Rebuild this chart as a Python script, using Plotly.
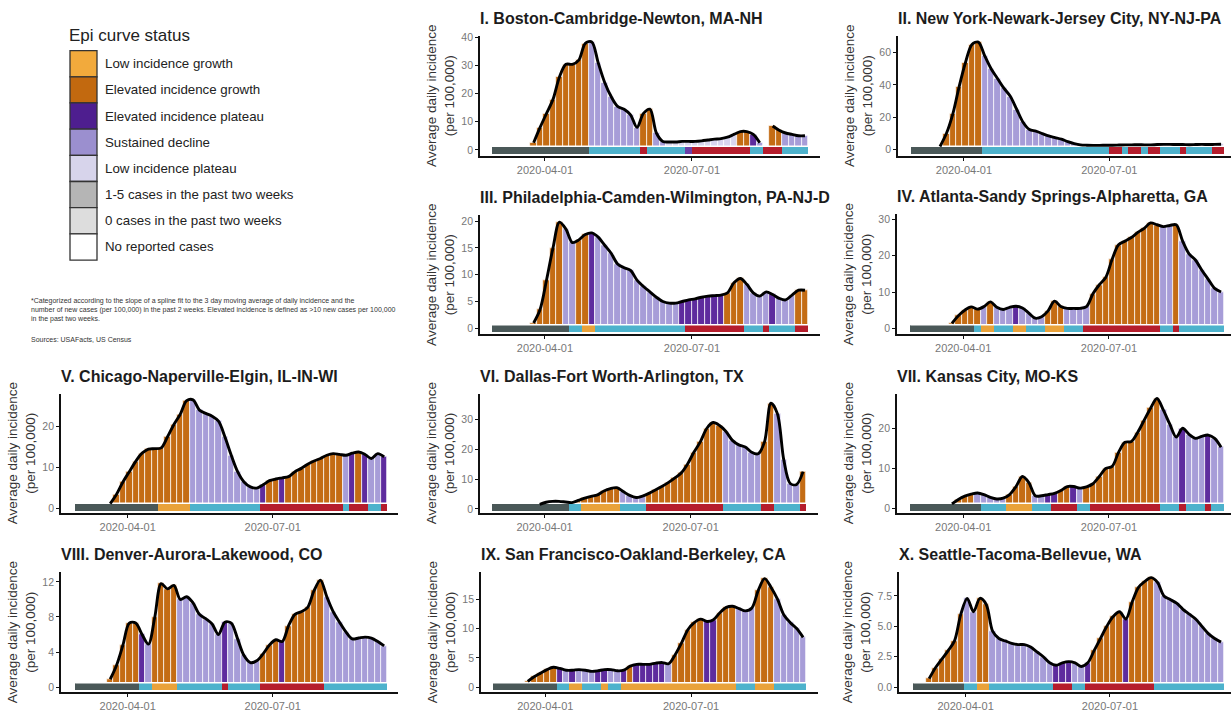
import plotly.graph_objects as go
import pandas as pd

FONT = "Liberation Sans, Arial, sans-serif"
W, H = 1231, 713

# ---------------- data ----------------
START = "2020-03-01"
N_BARS = 49
STEP_DAYS = 4

tick_dates = ["2020-04-01", "2020-07-01"]
tick_labels = ["2020-04-01", "2020-07-01"]

titles = [
    "I. Boston-Cambridge-Newton, MA-NH",
    "II. New York-Newark-Jersey City, NY-NJ-PA",
    "III. Philadelphia-Camden-Wilmington, PA-NJ-D",
    "IV. Atlanta-Sandy Springs-Alpharetta, GA",
    "V. Chicago-Naperville-Elgin, IL-IN-WI",
    "VI. Dallas-Fort Worth-Arlington, TX",
    "VII. Kansas City, MO-KS",
    "VIII. Denver-Aurora-Lakewood, CO",
    "IX. San Francisco-Oakland-Berkeley, CA",
    "X. Seattle-Tacoma-Bellevue, WA",
]

boston_vals = [None, None, None, None, None, None,
               2.5, 8, 13, 18, 26, 30.5, 30.5, 32, 38, 38.5, 31, 24, 19, 15.5, 14.5,
               12.5, 8, 13, 14.5, 6, 3, 2.8, 2.8, 3, 3, 3, 3.2, 3.5, 3.8, 4,
               4.5, 5.5, 6.5, 6.5, 5.5, 2.5, None, 8.5, 7, 6, 5.5, 5, 5]
ny_vals = [None, None, None, None,
           2, 10, 22, 39, 54, 65, 66.5, 58, 50, 44, 38, 33, 25, 17, 12.5, 11.5, 10,
           8.5, 7.5, 6.5, 5, 3.8, 3, 2.8, 2.7, 2.7, 2.8, 2.8, 2.9, 3.0, 3.0, 3.1, 3.0,
           3.0, 3.2, 3.3, 3.3, 3.2, 3.2, 3.1, 3.2, 3.3, 3.2, 3.3, 3.4]
philly_vals = [None, None, None, None, None, None,
               1, 3.5, 9, 15, 19.8, 18.5, 16, 16.5, 17.5, 17.8, 17, 15.5, 14, 12, 11.3,
               10.8, 9, 7.8, 6.8, 5.8, 5, 4.7, 4.7, 5, 5.3, 5.5, 5.8, 6, 6.1, 6.2,
               6.6, 8.5, 9.3, 8.2, 6.6, 6, 6.8, 6.3, 5.6, 5.3, 6.2, 7.1, 7.1]
atlanta_vals = [None, None, None, None, None, None,
                1.4, 3.5, 5, 5.9, 5.3, 6, 7.3, 5.8, 5.2, 5.8, 6.1, 5.6, 4.2, 2.8, 3.2,
                4.8, 7.5, 6, 5.5, 5.5, 5.5, 6, 9.5, 12, 14, 19, 23, 24, 25, 26.4,
                27.5, 29, 28.5, 28, 28.3, 28.5, 24, 20.5, 18.8, 16, 13.5, 11, 10]
chicago_vals = [None, None, None, None, None,
                1.2, 3.5, 6.5, 9, 11.5, 13.5, 14.5, 14.6, 14.8, 17.5, 20.5, 23, 26.3, 26.5,
                24, 23.2, 22.5, 21.3, 17.5, 13, 9, 6.5, 5.3, 5, 5.8, 6.8, 7.2, 7.5, 7.8,
                9, 9.8, 10.8, 11.6, 12.2, 13, 13.4, 13.2, 13, 13.5, 13.8, 13.2, 12.2, 13.4, 12.6]
dallas_vals = [None, None, None, None, None, None, None,
               1.5, 2.2, 2.5, 2.5, 2.3, 2.1, 2.8, 3.6, 4.2, 4.7, 6, 6.8, 7.1, 5.8, 4.5,
               3.8, 4.3, 5.2, 6.3, 7.5, 8.8, 10.3, 12, 15, 19, 22.5, 27, 29, 28, 26,
               23, 21.5, 20.8, 19, 18.5, 22.5, 35.5, 32, 16.4, 8.5, 8.2, 12.5]
kc_vals = [None, None, None, None, None, None,
           1.2, 2.3, 3.1, 3.6, 3.9, 3.5, 2.8, 2.4, 2.6, 3.5, 5.5, 8, 6.5, 3.2, 3.2,
           3.5, 3.8, 4.5, 5.5, 5.5, 5.1, 5.4, 6.2, 8, 10, 10.5, 14, 16.5, 16.7, 19,
           22, 25, 27.4, 24.5, 21, 17.8, 20, 18.5, 17.5, 18, 18.3, 17.5, 15.3]
denver_vals = [None, None, None, None, None,
               0.9, 2.5, 4.8, 7.3, 7.3, 6, 4.9, 8, 11.8, 11.2, 11.6, 10, 10.3, 9.6, 8.3,
               7.8, 7.2, 6, 7.4, 7.3, 5.5, 3.6, 2.8, 3, 3.8, 4.8, 5.4, 5.2, 7, 8.3,
               8.6, 9.1, 11, 12.2, 10.3, 8.6, 7.4, 6.3, 5.5, 5.6, 5.7, 5.6, 5.2, 4.7]
sf_vals = [None, None, None, None, None,
           1, 1.8, 2.4, 3, 3.4, 3.2, 2.9, 2.9, 3, 2.9, 2.7, 2.8, 3, 3, 2.8, 2.9,
           3.6, 3.9, 3.9, 3.9, 4.1, 4.2, 4, 5.5, 7.5, 9.8, 11, 11.6, 11.2, 11.5, 12.7,
           13.6, 13.8, 13.4, 13, 13.5, 16.5, 18.5, 17, 15, 12.3, 11, 10, 8.5]
seattle_vals = [None, None,
                0.7, 1.6, 2.3, 3, 3.8, 6, 7.3, 6.2, 7.3, 6.8, 4.6, 4, 3.8, 3.6, 3.5,
                3.5, 3.3, 2.9, 2.5, 2, 1.8, 2, 2.1, 2, 1.7, 2, 3, 4, 5, 5.8, 6.2,
                5.6, 7, 8.2, 8.7, 9, 8.6, 7.5, 7.2, 6.9, 6.4, 6, 5.6, 5, 4.4, 4, 3.7]

# status per bar: E elevated growth, L low growth, P elevated plateau,
# D sustained decline, W low incidence plateau, N none
boston_status = "N"*6 + "E"*9 + "D"*8 + "E"*2 + "D"*2 + "W"*11 + "E"*2 + "P" + "D" + "N" + "E"*2 + "D"*4
ny_status = "N"*4 + "E"*7 + "D"*16 + "W"*22
philly_status = "N"*6 + "E"*5 + "D"*2 + "E"*2 + "P" + "D"*13 + "P"*7 + "E"*3 + "D"*4 + "P" + "D"*3 + "E"*2
atlanta_status = "N"*6 + "E"*5 + "D" + "E" + "D"*3 + "P" + "D"*4 + "E"*3 + "D"*4 + "E"*11 + "D"*2 + "E" + "D"*7
chicago_status = "N"*5 + "E"*13 + "D"*11 + "P" + "E"*2 + "P" + "E"*9 + "D" + "P" + "E" + "P" + "D"*2 + "P"
dallas_status = "N"*7 + "W"*5 + "E"*8 + "D"*4 + "E"*12 + "D"*6 + "E"*2 + "D"*4 + "E"
kc_status = "N"*6 + "E"*4 + "D"*5 + "E"*4 + "D"*2 + "P"*2 + "E"*2 + "P" + "D" + "E"*12 + "D"*3 + "P" + "D"*3 + "P" + "D"*2
denver_status = "N"*5 + "E"*5 + "P" + "D" + "E"*4 + "D"*7 + "P" + "D"*5 + "E"*3 + "P" + "E"*6 + "D"*10
sf_status = "N"*5 + "E"*5 + "P" + "D" + "P" + "D"*3 + "P"*2 + "D"*2 + "P" + "E" + "P"*5 + "D" + "E"*5 + "P"*2 + "E"*3 + "D"*3 + "E"*3 + "D"*5
seattle_status = "N"*2 + "E"*6 + "D"*2 + "E"*2 + "D"*10 + "P"*3 + "D"*2 + "P" + "E"*5 + "P" + "E"*4 + "D"*11

# bottom strip categories: G grey, C cyan, O orange, R red, V violet
boston_strip = "G"*15 + "C"*8 + "R" + "C"*6 + "V" + "R"*9 + "C"*2 + "R"*3 + "C"*4
ny_strip = "G"*11 + "C"*20 + "R"*2 + "C" + "R"*2 + "C" + "R"*2 + "C"*3 + "R" + "C"*4 + "R"*2
philly_strip = "G"*12 + "C"*2 + "O"*2 + "C"*14 + "R"*9 + "C"*3 + "R" + "C"*4 + "R"*2
atlanta_strip = "G"*10 + "C" + "O"*2 + "C"*3 + "O"*2 + "C"*3 + "O"*3 + "C"*3 + "R"*12 + "C"*2 + "R" + "C"*7
chicago_strip = "G"*13 + "O"*5 + "C"*11 + "R"*13 + "C" + "R"*3 + "C"*2 + "R"
dallas_strip = "G"*12 + "C"*2 + "O"*6 + "C"*4 + "R"*12 + "C"*6 + "R"*2 + "C"*4 + "R"
kc_strip = "G"*11 + "C"*4 + "O"*4 + "C"*3 + "R"*4 + "C"*2 + "R"*11 + "C"*3 + "R" + "C"*3 + "R" + "C"*2
denver_strip = "G"*10 + "C"*2 + "O"*4 + "C"*7 + "R" + "C"*5 + "R"*10 + "C"*10
sf_strip = "G"*10 + "C"*2 + "O"*2 + "C"*3 + "O" + "C"*2 + "O"*18 + "C"*3 + "O"*3 + "C"*5
seattle_strip = "G"*8 + "C"*2 + "O"*2 + "C"*10 + "R"*3 + "C"*2 + "R"*11 + "C"*11

values = [boston_vals, ny_vals, philly_vals, atlanta_vals, chicago_vals,
          dallas_vals, kc_vals, denver_vals, sf_vals, seattle_vals]
statuses = [boston_status, ny_status, philly_status, atlanta_status, chicago_status,
            dallas_status, kc_status, denver_status, sf_status, seattle_status]
strips = [boston_strip, ny_strip, philly_strip, atlanta_strip, chicago_strip,
          dallas_strip, kc_strip, denver_strip, sf_strip, seattle_strip]

y_tickvals = [[0, 10, 20, 30, 40], [0, 20, 40, 60], [0, 5, 10, 15, 20], [0, 10, 20, 30],
              [0, 10, 20], [0, 10, 20, 30], [0, 10, 20], [0, 4, 8, 12], [0, 5, 10, 15],
              [0, 2.5, 5, 7.5]]
y_ticktext = [["0", "10", "20", "30", "40"], ["0", "20", "40", "60"],
              ["0", "5", "10", "15", "20"], ["0", "10", "20", "30"],
              ["0", "10", "20"], ["0", "10", "20", "30"], ["0", "10", "20"],
              ["0", "4", "8", "12"], ["0", "5", "10", "15"], ["0.0", "2.5", "5.0", "7.5"]]

legend_labels = ["Low incidence growth", "Elevated incidence growth", "Elevated incidence plateau",
                 "Sustained decline", "Low incidence plateau", "1-5 cases in the past two weeks",
                 "0 cases in the past two weeks", "No reported cases"]

# ---------------- styling / layout ----------------
status_colors = {"E": "#C46C14", "L": "#F0A838", "P": "#5E2C9E", "D": "#A79DD8",
                 "W": "#D8D5EE", "N": "rgba(0,0,0,0)"}
strip_colors = {"G": "#4A5858", "C": "#4DB2CC", "O": "#E9A23A", "R": "#B51D2C", "V": "#6A3FA8"}
legend_colors = ["#F2AA3C", "#C2690F", "#4E1E8F", "#9B8FCF", "#D7D4EB", "#B5B5B5", "#DDDDDD", "#FFFFFF"]

# panel boxes in pixels: (x0, x1, y0_top, y1_bottom), x-range in days from start
boxes = [(480, 820, 32, 153), (898, 1231, 32, 153),
         (480, 820, 213, 333), (897, 1231, 212, 333),
         (61, 398, 393, 513), (480, 818, 393, 513), (897, 1231, 393, 513),
         (61, 398, 573, 694), (481, 818, 573, 694), (899, 1231, 573, 694)]
xranges_days = [(-9.2, 201.3), (-10.3, 198.2), (-9.2, 201.3), (-10.3, 198.2),
                (-10.9, 200.7), (-9.2, 201.3), (-10.3, 198.2),
                (-10.9, 200.7), (-9.2, 201.3), (-11.0, 198.3)]
yranges = [(-2.1, 40.7), (-3.7, 70.4), (-1.1, 21.1), (-1.6, 31.4), (-1.0, 28.0),
           (-1.3, 38.7), (-1.0, 28.6), (-0.57, 13.1), (-0.84, 19.6), (-0.41, 9.45)]


def px(x):
    return x / W


def py(y):
    return 1 - y / H


start = pd.Timestamp(START)
dates = [start + pd.Timedelta(days=STEP_DAYS * i) for i in range(N_BARS)]
bar_w = STEP_DAYS * 24 * 3600 * 1000

fig = go.Figure()
layout = dict(
    width=W, height=H, margin=dict(l=0, r=0, t=0, b=0),
    paper_bgcolor="white", plot_bgcolor="white", showlegend=False,
    barmode="overlay", bargap=0, font=dict(family=FONT),
)
annotations = []
shapes = []

for k in range(10):
    vals, stat, strip = values[k], statuses[k], strips[k]
    assert len(vals) == N_BARS and len(stat) == N_BARS and len(strip) == N_BARS, k
    ax = "" if k == 0 else str(k + 1)
    xa, ya = "x" + ax, "y" + ax
    x0, x1, yt, yb = boxes[k]
    y0r, y1r = yranges[k]
    span = y1r - y0r

    fig.add_trace(go.Bar(
        x=dates, y=vals, width=bar_w, xaxis=xa, yaxis=ya,
        marker=dict(color=[status_colors[s] for s in stat],
                    line=dict(color="white", width=0.7)),
    ))
    s_bottom = y0r + 0.014 * span
    s_height = 0.065 * span
    fig.add_trace(go.Bar(
        x=dates, y=[s_height] * N_BARS, base=[s_bottom] * N_BARS, width=bar_w,
        xaxis=xa, yaxis=ya,
        marker=dict(color=[strip_colors[c] for c in strip], line=dict(width=0)),
    ))
    edge = pd.Timedelta(days=STEP_DAYS / 2)
    fig.add_trace(go.Scatter(
        x=[dates[0] - edge, dates[-1] + edge], y=[s_bottom + s_height] * 2,
        mode="lines", line=dict(color="white", width=1.5), xaxis=xa, yaxis=ya,
    ))
    fig.add_trace(go.Scatter(
        x=dates, y=vals, mode="lines", xaxis=xa, yaxis=ya,
        line=dict(color="black", width=2.9, shape="spline", smoothing=0.9),
        connectgaps=False,
    ))

    xr0 = start + pd.Timedelta(days=xranges_days[k][0])
    xr1 = start + pd.Timedelta(days=xranges_days[k][1])
    layout["xaxis" + ax] = dict(
        domain=[px(x0), px(x1)], anchor=ya, type="date",
        range=[xr0, xr1], tickvals=tick_dates, ticktext=tick_labels,
        showline=True, linecolor="#111", linewidth=1.8, ticks="outside",
        ticklen=3, tickwidth=1.2, tickcolor="#111", showgrid=False, zeroline=False,
        tickfont=dict(size=11, color="#777", family=FONT),
    )
    layout["yaxis" + ax] = dict(
        domain=[py(yb), py(yt)], anchor=xa, range=[y0r, y1r],
        tickvals=y_tickvals[k], ticktext=y_ticktext[k],
        showline=True, linecolor="#111", linewidth=1.8, ticks="outside",
        ticklen=3, tickwidth=1.2, tickcolor="#111", showgrid=False, zeroline=False,
        tickfont=dict(size=10.5, color="#777", family=FONT),
        title=dict(text="Average daily incidence<br>(per 100,000)", standoff=4,
                   font=dict(size=13.5, color="#333", family=FONT)),
    )
    annotations.append(dict(
        x=px(x0) - 0.002, y=py(yt) + 7 / H, xref="paper", yref="paper",
        xanchor="left", yanchor="bottom", showarrow=False,
        text="<b>" + titles[k] + "</b>",
        font=dict(size=16, color="#1c1c1c", family=FONT),
    ))

# legend block (top-left)
annotations.append(dict(x=px(67), y=py(32), xref="paper", yref="paper", xanchor="left",
                        yanchor="middle", showarrow=False, text="Epi curve status",
                        font=dict(size=17, color="#222", family=FONT)))
box_top, box_h = 47, 26.4
for j, (lab, col) in enumerate(zip(legend_labels, legend_colors)):
    t = box_top + j * box_h
    shapes.append(dict(type="rect", xref="paper", yref="paper",
                       x0=px(70), x1=px(97), y0=py(t + box_h), y1=py(t),
                       fillcolor=col, line=dict(color="#333", width=1.3)))
    annotations.append(dict(x=px(103), y=py(t + box_h / 2), xref="paper", yref="paper",
                            xanchor="left", yanchor="middle", showarrow=False, text=lab,
                            font=dict(size=13.3, color="#222", family=FONT)))

foot = ["*Categorized according to the slope of a spline fit to the 3 day moving average of daily incidence and the",
        "number of new cases (per 100,000) in the past 2 weeks. Elevated incidence is defined as >10 new cases per 100,000",
        "in the past two weeks."]
for j, line in enumerate(foot):
    annotations.append(dict(x=px(29), y=py(300 + j * 9), xref="paper", yref="paper",
                            xanchor="left", yanchor="middle", showarrow=False, text=line,
                            font=dict(size=7, color="#333", family=FONT)))
annotations.append(dict(x=px(29), y=py(338), xref="paper", yref="paper",
                        xanchor="left", yanchor="middle", showarrow=False,
                        text="Sources: USAFacts, US Census",
                        font=dict(size=7, color="#333", family=FONT)))

layout["annotations"] = annotations
layout["shapes"] = shapes
fig.update_layout(**layout)
fig.write_html("out.html")
